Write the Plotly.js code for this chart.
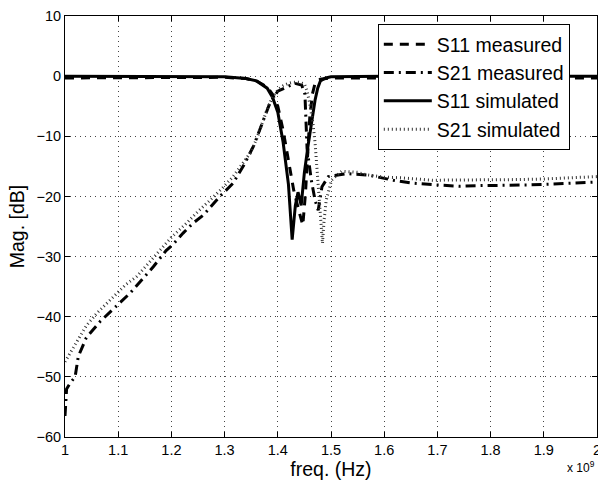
<!DOCTYPE html>
<html>
<head>
<meta charset="utf-8">
<script src="https://cdn.plot.ly/plotly-3.0.1.min.js"></script>
<style>html,body{margin:0;padding:0;background:#fff;}#chart{width:598px;height:484px;}</style>
</head>
<body>
<div id="chart"></div>
<script>
// Frequencies in GHz (axis shows x 10^9 Hz)
const s11MeasFreq = [1.0, 1.1, 1.2, 1.3, 1.34, 1.36, 1.38, 1.39, 1.40, 1.41, 1.42, 1.43, 1.44, 1.447, 1.452, 1.456, 1.46, 1.465, 1.47, 1.48, 1.5, 1.6, 1.8, 2.0];
const s11MeasMag  = [-0.3, -0.3, -0.25, -0.2, -0.4, -0.8, -1.8, -3, -5, -9, -14, -19, -22.5, -24.8, -19.5, -13, -7, -3, -1.2, -0.5, -0.3, -0.3, -0.3, -0.3];

const s21MeasFreq = [1.0, 1.003, 1.01, 1.019, 1.025, 1.04, 1.066, 1.09, 1.11, 1.122, 1.147, 1.166, 1.19, 1.203, 1.222, 1.24, 1.26, 1.275, 1.291, 1.316, 1.338, 1.355, 1.37, 1.385, 1.40, 1.417, 1.432, 1.445, 1.451, 1.455, 1.463, 1.47, 1.476, 1.483, 1.495, 1.53, 1.573, 1.617, 1.654, 1.70, 1.74, 1.78, 1.83, 1.87, 1.9, 1.95, 2.0];
const s21MeasMag  = [-56.5, -52, -51, -50, -46.6, -43.5, -40.8, -38.8, -37, -36.1, -33.6, -31.7, -29, -28, -26.1, -24.5, -23.1, -21.6, -20, -17.8, -14.5, -11.5, -8, -4.5, -2.5, -1.75, -1.2, -1.5, -3, -12, -17.3, -20.6, -22.3, -18.4, -16.7, -16.2, -16.5, -17.3, -17.8, -18.1, -18.3, -18.2, -18.2, -18.1, -18.0, -17.8, -17.6];

const s11SimFreq = [1.0, 1.1, 1.2, 1.3, 1.34, 1.36, 1.38, 1.39, 1.40, 1.41, 1.42, 1.427, 1.433, 1.438, 1.444, 1.45, 1.457, 1.464, 1.47, 1.475, 1.48, 1.49, 1.5, 1.6, 1.8, 2.0];
const s11SimMag  = [0, 0, 0, -0.1, -0.4, -0.8, -2, -3.5, -6, -11, -18, -27.2, -21.5, -19.3, -21.5, -16, -11.5, -7.5, -4, -2, -0.8, -0.3, -0.1, 0, 0, 0];

const s21SimFreq = [1.0, 1.01, 1.022, 1.04, 1.06, 1.08, 1.097, 1.115, 1.135, 1.155, 1.179, 1.2, 1.229, 1.25, 1.273, 1.295, 1.316, 1.335, 1.348, 1.36, 1.37, 1.38, 1.39, 1.40, 1.41, 1.42, 1.43, 1.44, 1.45, 1.455, 1.46, 1.466, 1.47, 1.474, 1.478, 1.481, 1.484, 1.487, 1.491, 1.501, 1.52, 1.55, 1.567, 1.6, 1.63, 1.69, 1.75, 1.8, 1.85, 1.9, 1.95, 2.0];
const s21SimMag  = [-47.5, -46, -44.2, -41.5, -39.4, -37.6, -36.1, -34.6, -33.3, -31.3, -28.9, -26.8, -24.4, -22.5, -20.6, -18.7, -16.7, -14.5, -12.8, -10.5, -8, -5.5, -3.5, -2.3, -1.6, -1.2, -1.0, -1.0, -1.3, -2.5, -4.5, -7.8, -11, -16, -20.6, -25, -27.8, -24, -20.6, -17.3, -15.8, -16.0, -16.4, -16.8, -16.9, -17.3, -17.3, -17.3, -17.2, -17.1, -16.9, -16.7];

const xTickVals = [1, 1.1, 1.2, 1.3, 1.4, 1.5, 1.6, 1.7, 1.8, 1.9, 2];
const xTickText = ['1', '1.1', '1.2', '1.3', '1.4', '1.5', '1.6', '1.7', '1.8', '1.9', '2'];
const yTickVals = [-60, -50, -40, -30, -20, -10, 0, 10];
const yTickText = ['\u221260', '\u221250', '\u221240', '\u221230', '\u221220', '\u221210', '0', '10'];

const FONT = 'Liberation Sans, Arial, Helvetica, sans-serif';

const traces = [
  {x: s11MeasFreq, y: s11MeasMag, name: 'S11 measured', mode: 'lines', line: {color: '#000', width: 3, dash: '9px,7px'}},
  {x: s21MeasFreq, y: s21MeasMag, name: 'S21 measured', mode: 'lines', line: {color: '#000', width: 3, dash: '10px,5px,2px,5px'}},
  {x: s11SimFreq, y: s11SimMag, name: 'S11 simulated', mode: 'lines', line: {color: '#000', width: 3}},
  {x: s21SimFreq, y: s21SimMag, name: 'S21 simulated', mode: 'lines', line: {color: '#333', width: 3, dash: '1px,3px'}}
];

const axisCommon = {
  showline: true, linecolor: '#000', linewidth: 1, mirror: 'ticks',
  ticks: 'inside', ticklen: 5, tickcolor: '#000', tickwidth: 1,
  showgrid: true, gridcolor: '#444', gridwidth: 1, griddash: '1px,4px',
  zeroline: false, ticklabeloverflow: 'allow',
  tickfont: {family: FONT, size: 14.5, color: '#000'}
};

const layout = {
  width: 598, height: 484,
  margin: {l: 65, r: 1, t: 16, b: 47},
  paper_bgcolor: '#fff', plot_bgcolor: '#fff',
  font: {family: FONT, color: '#000'},
  showlegend: true,
  legend: {
    x: 0.588, y: 0.981, xanchor: 'left', yanchor: 'top',
    bgcolor: '#fff', bordercolor: '#000', borderwidth: 1,
    font: {family: FONT, size: 19.5, color: '#000'},
    itemwidth: 48, tracegroupgap: 0
  },
  xaxis: Object.assign({}, axisCommon, {
    range: [1, 2.000001], tickvals: xTickVals, ticktext: xTickText,
    title: {text: 'freq. (Hz)', font: {family: FONT, size: 19.5}, standoff: 4}
  }),
  yaxis: Object.assign({}, axisCommon, {
    range: [-60, 10], tickvals: yTickVals, ticktext: yTickText,
    title: {text: 'Mag. [dB]', font: {family: FONT, size: 19.5}, standoff: 6}
  }),
  annotations: [{
    xref: 'paper', yref: 'paper', x: 1.0, y: 0, yshift: -40, xanchor: 'right', yanchor: 'bottom',
    text: 'x 10<sup>9</sup>', showarrow: false, font: {family: FONT, size: 12, color: '#000'}
  }]
};

Plotly.newPlot('chart', traces, layout, {staticPlot: true, displayModeBar: false});
</script>
</body>
</html>
